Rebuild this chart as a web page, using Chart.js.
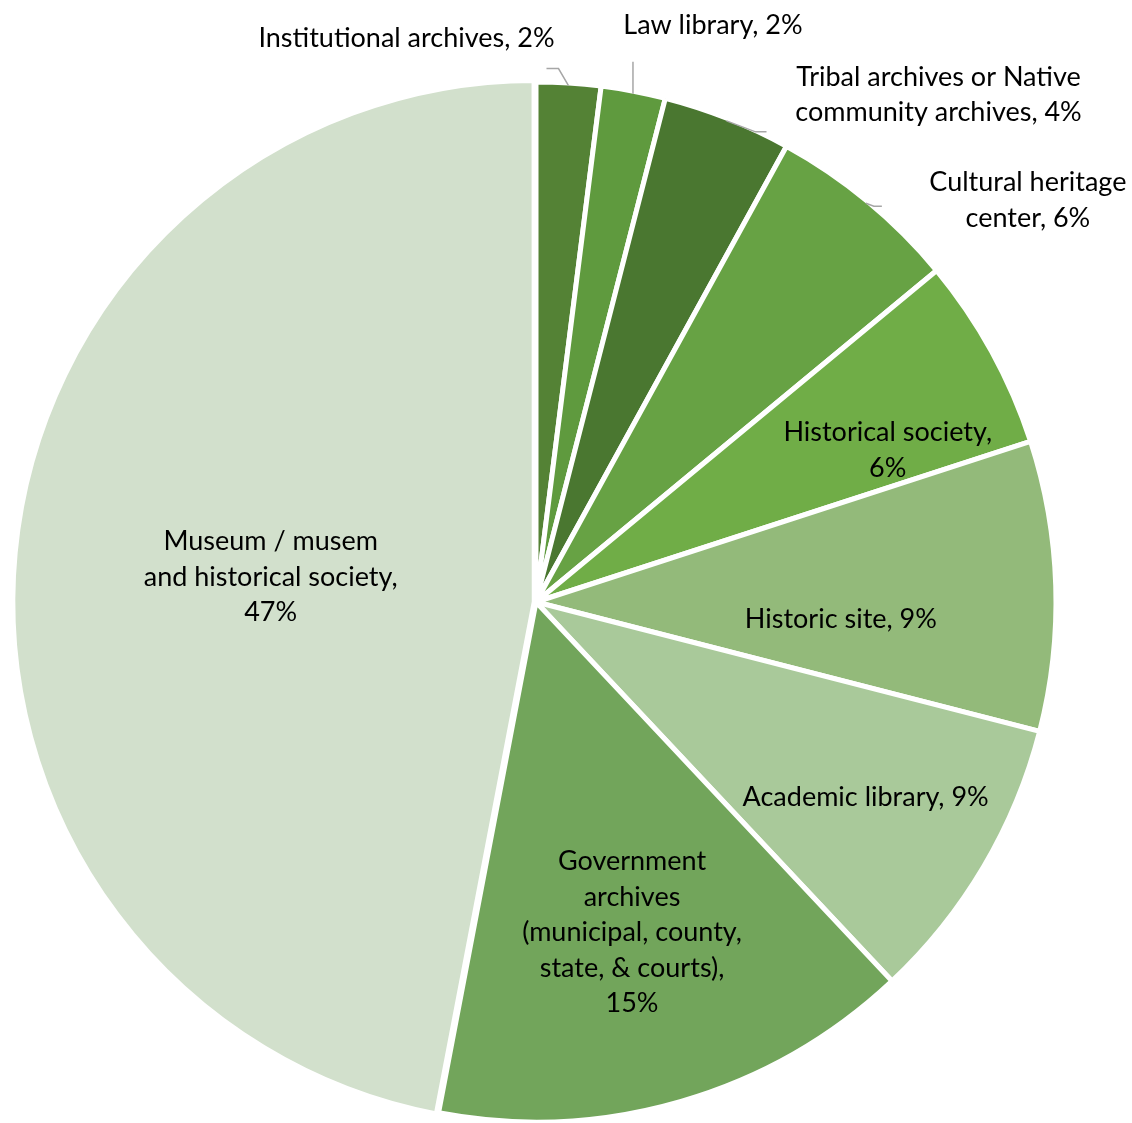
<!DOCTYPE html>
<html>
<head>
<meta charset="utf-8">
<script src="https://cdn.jsdelivr.net/npm/chart.js@4.4.1/dist/chart.umd.min.js"></script>
<style>
  html, body { margin: 0; padding: 0; background: #fff; }
  #wrap { width: 1132px; height: 1123px; position: relative; }
</style>
</head>
<body>
<div id="wrap"><canvas id="pieChart"></canvas></div>
<script>
// Share of respondents by type of institution (percent), clockwise from 12 o'clock
const categories = [
  ["Institutional archives"],
  ["Law library"],
  ["Tribal archives or Native", "community archives"],
  ["Cultural heritage", "center"],
  ["Historical society"],
  ["Historic site"],
  ["Academic library"],
  ["Government", "archives", "(municipal, county,", "state, & courts)"],
  ["Museum / musem", "and historical society"],
];
const values = [2, 2, 4, 6, 6, 9, 9, 15, 47];

const colors = [
  "#548235", "#5f9a3e", "#4a7730", "#67a244", "#70ad47",
  "#93ba7a", "#a9c99a", "#72a55b", "#d2e0cc",
];

// percent goes on its own line for these slices
const pctOnOwnLine = [false, false, false, false, true, false, false, true, true];

// outside labels: leader [elbow dx, elbow dy, horizontal run], text offset from leader end
// inside labels: radius fraction and angle nudge (deg)
const labelPlace = [
  { leader: [-10, -17, -12], text: [-140, -30] },
  { leader: [0, -32, 0], text: [80, -36] },
  { leader: [29, 11, 11], text: [172, -37] },
  { leader: [8, 3, 8], text: [146, -6] },
  { r: 0.74, da: 5.5 },
  { r: 0.59, da: 5 },
  { r: 0.74, da: 0 },
  { r: 0.665, da: 0 },
  { r: 0.515, da: 0 },
];

const FONT = '27px Lato, "Open Sans", sans-serif';
const LINE_H = 35.5;
const BORDER = 5;

function labelLines(i) {
  const lines = categories[i].slice();
  const pct = Math.round(values[i]) + "%";
  lines[lines.length - 1] += ",";
  if (pctOnOwnLine[i]) lines.push(pct);
  else lines[lines.length - 1] += " " + pct;
  return lines;
}

function drawLines(ctx, lines, cx, cy) {
  const top = cy - (lines.length - 1) * LINE_H / 2;
  lines.forEach((ln, k) => ctx.fillText(ln, cx, top + k * LINE_H));
}

const sliceLabels = {
  id: "sliceLabels",
  afterDatasetsDraw(chart) {
    const ctx = chart.ctx;
    const arcs = chart.getDatasetMeta(0).data;
    ctx.save();
    ctx.font = FONT;
    ctx.textAlign = "center";
    ctx.textBaseline = "middle";
    arcs.forEach((arc, i) => {
      const p = labelPlace[i];
      const mid = (arc.startAngle + arc.endAngle) / 2;
      const R = arc.outerRadius - BORDER / 2;
      if (p.leader) {
        const x0 = arc.x + Math.cos(mid) * R;
        const y0 = arc.y + Math.sin(mid) * R;
        const x1 = x0 + p.leader[0];
        const y1 = y0 + p.leader[1];
        const x2 = x1 + p.leader[2];
        ctx.strokeStyle = "#a6a6a6";
        ctx.lineWidth = 1.5;
        ctx.beginPath();
        ctx.moveTo(x0, y0);
        ctx.lineTo(x1, y1);
        ctx.lineTo(x2, y1);
        ctx.stroke();
        ctx.fillStyle = "#000";
        drawLines(ctx, labelLines(i), x2 + p.text[0], y1 + p.text[1]);
      } else {
        const a = mid + p.da * Math.PI / 180;
        ctx.fillStyle = "#000";
        drawLines(ctx, labelLines(i),
          arc.x + Math.cos(a) * R * p.r,
          arc.y + Math.sin(a) * R * p.r);
      }
    });
    ctx.restore();
  },
};

const ctx = document.getElementById("pieChart").getContext("2d");
new Chart(ctx, {
  type: "pie",
  data: {
    labels: categories.map((c) => c.join(" ")),
    datasets: [
      {
        data: values,
        backgroundColor: colors,
        borderColor: "#ffffff",
        borderWidth: BORDER,
        offset: [0, 0, 0, 0, 0, 0, 0, 0, 7],
        radius: 520,
      },
    ],
  },
  options: {
    responsive: true,
    maintainAspectRatio: false,
    animation: false,
    layout: { padding: { left: 0, right: 60, top: 81, bottom: 0 } },
    plugins: {
      legend: { display: false },
      tooltip: { enabled: false },
    },
  },
  plugins: [sliceLabels],
});
</script>
</body>
</html>
